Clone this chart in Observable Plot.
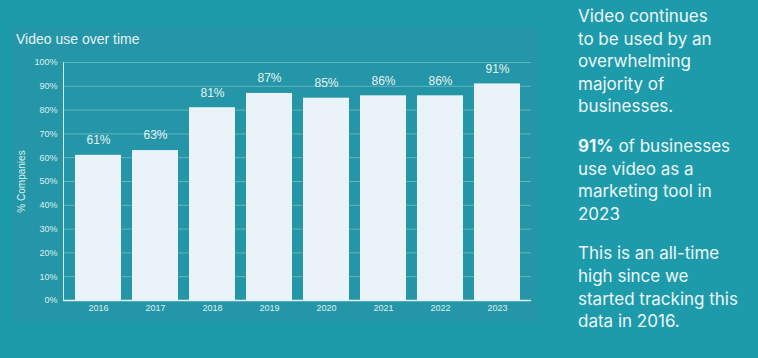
<!DOCTYPE html>
<html>
<head>
<meta charset="utf-8">
<script src="https://cdn.jsdelivr.net/npm/d3@7"></script>
<script src="https://cdn.jsdelivr.net/npm/@observablehq/plot@0.6"></script>
<style>
  html, body { margin: 0; padding: 0; }
  body { width: 758px; height: 358px; background: #1d9bab; position: relative; overflow: hidden; font-family: "Liberation Sans", Arial, sans-serif; }
  #panel { position: absolute; left: 12px; top: 26px; width: 525px; height: 296px; background: #2596a7; }
  #title { position: absolute; left: 4px; top: 5px; font-size: 14px; color: #e6f3f6; white-space: nowrap; }
  #chart { position: absolute; left: 0; top: 24px; }
  #side { position: absolute; left: 578px; top: 5px; width: 180px; font-family: Inter, "Noto Sans", sans-serif; font-size: 17px; line-height: 22.6px; color: #eef7f9; }
  #side p { margin: 0 0 17px 0; }
</style>
</head>
<body>
<div id="panel">
  <div id="title">Video use over time</div>
  <div id="chart"></div>
</div>
<div id="side">
  <p>Video continues<br>to be used by an<br>overwhelming<br>majority of<br>businesses.</p>
  <p><b>91%</b> of businesses<br>use video as a<br>marketing tool in<br>2023</p>
  <p>This is an all-time<br>high since we<br>started tracking this<br>data in 2016.</p>
</div>
<script>
const years = ["2016", "2017", "2018", "2019", "2020", "2021", "2022", "2023"];
const values = [61, 63, 81, 87, 85, 86, 86, 91];
const yTicks = [0, 10, 20, 30, 40, 50, 60, 70, 80, 90, 100];

const data = years.map((y, i) => ({year: y, value: values[i]}));

const plot = Plot.plot({
  width: 525,
  height: 272,
  marginLeft: 51,
  marginRight: 6,
  marginTop: 12,
  marginBottom: 22,
  style: {background: "transparent", fontFamily: "Liberation Sans, Arial, sans-serif", fontSize: "9px", color: "#dcf0f4"},
  x: {domain: years, padding: 0.2, label: null},
  y: {domain: [0, 100], label: null},
  marks: [
    Plot.ruleY(yTicks, {stroke: "#5fb6c4", strokeWidth: 1}),
    Plot.barY(data, {x: "year", y: "value", fill: "#eaf4f8"}),
    Plot.text(data, {x: "year", y: "value", text: d => d.value + "%", dy: -15, fill: "#e6f3f6", fontSize: 12}),
    Plot.axisX({tickSize: 0, tickPadding: 4, label: null, fill: "#dcf0f4"}),
    Plot.axisY({ticks: yTicks, tickSize: 0, tickPadding: 6, tickFormat: d => d + "%", label: null, fill: "#dcf0f4"}),
    Plot.axisY({ticks: [], label: "% Companies", labelAnchor: "center", labelArrow: "none", labelOffset: 46, fontSize: 10, fill: "#dcf0f4"}),
    Plot.ruleY([0], {stroke: "#e6f3f6", strokeWidth: 1.5}),
    Plot.frame({anchor: "left", stroke: "#cfe9ee", strokeWidth: 1})
  ]
});
document.getElementById("chart").appendChild(plot);
</script>
</body>
</html>
